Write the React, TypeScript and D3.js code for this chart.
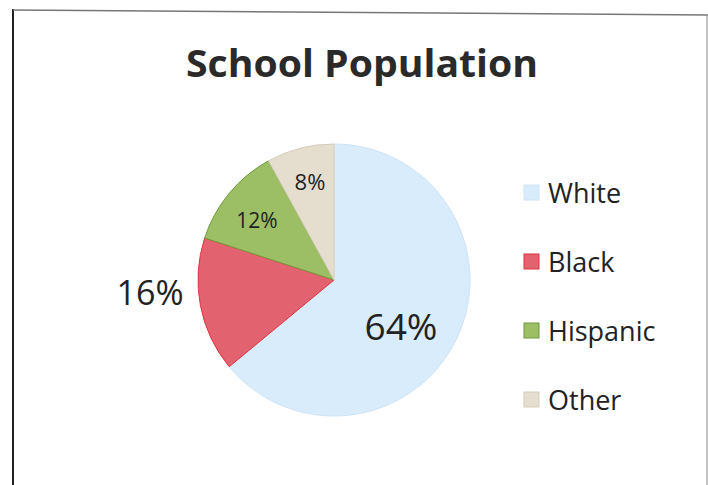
import React from "react";
import * as d3 from "d3";

const categories = ["White", "Black", "Hispanic", "Other"];
const values = [64, 16, 12, 8];
const labels = ["64%", "16%", "12%", "8%"];
const colors = ["#d9ecfb", "#e2636f", "#9cbf66", "#e5dece"];
const strokes = ["#cfe3f3", "#e0313f", "#6f9a3a", "#d6cdb8"];

export default function App() {
  const W = 708, H = 485;
  const cx = 334, cy = 280, r = 136;
  const pie = d3.pie<number>().sort(null).value((d) => d)(values);
  const arc = d3.arc<d3.PieArcDatum<number>>().innerRadius(0).outerRadius(r);
  const labelPos = [
    { x: 401, y: 340, size: 37 },
    { x: 150, y: 305, size: 34 },
    { x: 257, y: 228, size: 21 },
    { x: 310, y: 190, size: 22 },
  ];
  const legY = d3.scalePoint<string>().domain(categories).range([193, 400]);
  const font = "'Open Sans', sans-serif";
  return (
    <svg width={W} height={H} style={{ position: "absolute", left: 0, top: 0, background: "#fff" }}>
      <rect x={0} y={0} width={W} height={H} fill="#fff" />
      <line x1={13} y1={9} x2={13} y2={H} stroke="#222" strokeWidth={2} />
      <line x1={13} y1={10} x2={W} y2={15} stroke="#777" strokeWidth={1.5} />
      <line x1={707} y1={15} x2={707} y2={H} stroke="#888" strokeWidth={1} />
      <text x={362} y={77} textAnchor="middle" fontFamily={font} fontWeight={700} fontSize={38} fill="#2a2a2a" textLength={352} lengthAdjust="spacingAndGlyphs">
        School Population
      </text>
      <g transform={`translate(${cx},${cy})`}>
        {pie.map((p, i) => (
          <path key={categories[i]} d={arc(p) || ""} fill={colors[i]} stroke={strokes[i]} strokeWidth={1} />
        ))}
      </g>
      {labels.map((t, i) => (
        <text key={t} x={labelPos[i].x} y={labelPos[i].y} textAnchor="middle" fontFamily={font} fontSize={labelPos[i].size} fill="#222">
          {t}
        </text>
      ))}
      {categories.map((c, i) => (
        <g key={c} transform={`translate(524,${legY(c)})`}>
          <rect x={0} y={-8} width={15} height={15} fill={colors[i]} stroke={strokes[i]} strokeWidth={1} />
          <text x={24} y={10} fontFamily={font} fontSize={27} fill="#222">{c}</text>
        </g>
      ))}
    </svg>
  );
}
